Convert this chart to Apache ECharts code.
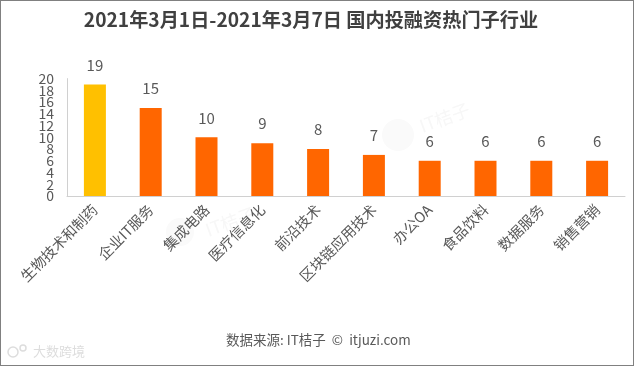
<!DOCTYPE html>
<html><head><meta charset="utf-8">
<style>html,body{margin:0;padding:0;background:#fff}#c{width:634px;height:366px;box-sizing:border-box}
#f{position:absolute;left:0;top:0;width:634px;height:366px;box-sizing:border-box;border:1px solid #808080;pointer-events:none}</style>
<script src="https://cdn.jsdelivr.net/npm/echarts@6/dist/echarts.min.js"></script>
</head><body><div id="c"></div><div id="f"></div>
<script>
const titleText = '2021年3月1日-2021年3月7日 国内投融资热门子行业';
const sourceText = '数据来源: IT桔子  ©  itjuzi.com';
const categories = ['生物技术和制药','企业IT服务','集成电路','医疗信息化','前沿技术','区块链应用技术','办公OA','食品饮料','数据服务','销售营销'];
const values = [19,15,10,9,8,7,6,6,6,6];
const ticksA = [0,4,8,12,16,20];
const ticksB = [2,6,10,14,18];
const highlightColor = '#FFC000';
const barColor = '#FF6600';
const font = '"Noto Sans CJK SC","Noto Sans",sans-serif';
const yLabel = {margin:13,fontFamily:font,fontSize:14,color:'#595959',hideOverlap:false};
const chart = echarts.init(document.getElementById('c'), null, {renderer:'canvas'});
chart.setOption({
  animation:false,
  backgroundColor:'#fff',
  title:{text:titleText,left:306,top:5,textAlign:'center',textStyle:{fontFamily:font,fontSize:19.2,fontWeight:'bold',color:'#404040'}},
  grid:{left:67,right:9,top:78.6,bottom:170},
  xAxis:{type:'category',data:categories,
    axisTick:{show:false},axisLine:{lineStyle:{color:'#D0D0D0',width:1}},
    axisLabel:{rotate:45,interval:0,margin:11,fontFamily:font,fontSize:14.5,color:'#595959'}},
  yAxis:[
   {type:'value',position:'left',min:0,max:20,interval:4,
    splitLine:{show:false},axisTick:{show:false},
    axisLine:{show:true,lineStyle:{color:'#D0D0D0',width:1}},
    axisLabel:Object.assign({customValues:ticksA},yLabel)},
   {type:'value',position:'left',min:0,max:20,interval:4,
    splitLine:{show:false},axisTick:{show:false},axisLine:{show:false},
    axisLabel:Object.assign({customValues:ticksB},yLabel)}
  ],
  series:[{type:'bar',barWidth:22,
    data:values.map((v,i)=>({value:v,itemStyle:{color:i===0?highlightColor:barColor}})),
    label:{show:true,position:'top',distance:12,fontFamily:font,fontSize:15,color:'#595959'}}],
  graphic:[
    {type:'text',left:226,top:333,style:{text:sourceText,font:'13.5px '+font,fill:'#595959'}},
    {type:'text',left:33,top:345,style:{text:'大数跨境',font:'13px '+font,fill:'#DDDDDD'}},
    {type:'circle',shape:{cx:13,cy:352,r:5},style:{fill:'none',stroke:'#DDDDDD',lineWidth:1.5}},
    {type:'circle',shape:{cx:23,cy:348,r:3},style:{fill:'none',stroke:'#DDDDDD',lineWidth:1.5}},
    {type:'circle',shape:{cx:180,cy:232,r:14},style:{fill:'#FAFAFA'},z:-1},
    {type:'circle',shape:{cx:398,cy:135,r:16},style:{fill:'#FAFAFA'},z:-1},
    {type:'text',x:203,y:222,rotation:0.35,style:{text:'IT桔子',font:'18px '+font,fill:'#F7F7F7'},z:-1},
    {type:'text',x:417,y:118,rotation:0.35,style:{text:'IT桔子',font:'18px '+font,fill:'#F7F7F7'},z:-1}
  ]
});
</script></body></html>
